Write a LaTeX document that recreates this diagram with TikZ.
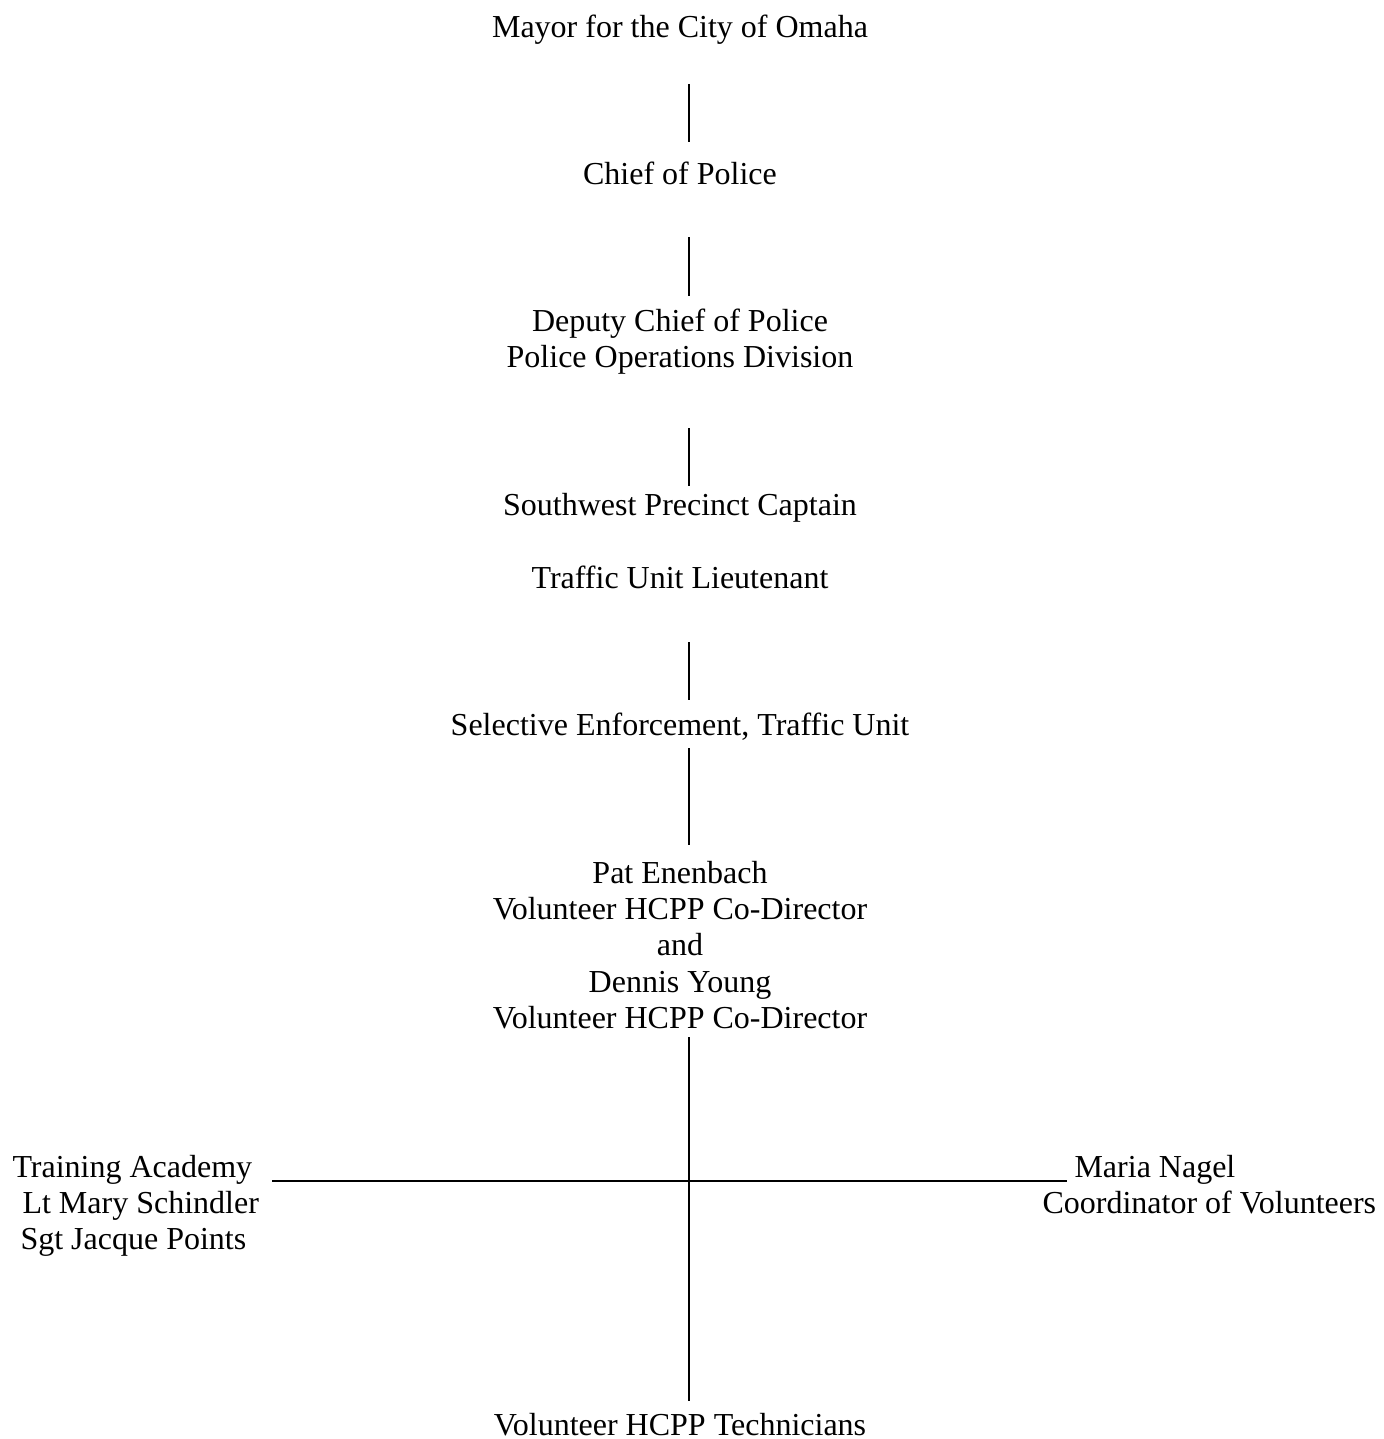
\documentclass[tikz,border=0pt]{standalone}
\usepackage{fontspec}
\setmainfont{Liberation Serif}

\tikzset{
  post/.style={inner sep=0pt, anchor=base, font=\fontsize{12}{13.65}\selectfont},
  stack/.style={post, align=flush center, text width=#1},
  link/.style={line width=0.7pt}
}

\begin{document}
\begin{tikzpicture}[x=0.375pt,y=-0.375pt]
\useasboundingbox (0,0) rectangle (1384,1439);

    \coordinate (spine) at (689,0);

    \node[post] (mayor) at (680,37) {Mayor for the City of Omaha};
    \node[post] (chief) at (680,184) {Chief of Police};
    \node[stack=150pt] (deputy) at (680,331) {Deputy Chief of Police\\Police Operations Division};
    \node[post] (captain) at (680,515) {Southwest Precinct Captain};
    \node[post] (lieut) at (680,588) {Traffic Unit Lieutenant};
    \node[post] (selective) at (680,735) {Selective Enforcement, Traffic Unit};
    \node[stack=150pt] (codir) at (680,883) {Pat Enenbach\\Volunteer HCPP Co-Director\\and\\Dennis Young\\Volunteer HCPP Co-Director};
    \node[post, align=flush left, text width=100pt, anchor=base west] (train) at (12,1177) {Training Academy\\\hspace{3.75pt}Lt Mary Schindler\\\hspace{3pt}Sgt Jacque Points};
    \node[post, align=flush left, text width=130pt, anchor=base west] (maria) at (1042,1177) {\hspace{12pt}Maria Nagel\\Coordinator of Volunteers};
    \node[post] (tech) at (680,1435) {Volunteer HCPP Technicians};

    \draw[link, shorten <=17.6pt, shorten >=15.75pt] (mayor.base -| spine) -- (chief.base -| spine);
    \draw[link, shorten <=19.9pt, shorten >=13.1pt] (chief.base -| spine) -- (deputy.base -| spine);
    \draw[link, shorten <=36.4pt, shorten >=10.9pt] (deputy.base -| spine) -- (captain.base -| spine);
    \draw[link, shorten <=20.25pt, shorten >=13.1pt] (lieut.base -| spine) -- (selective.base -| spine);
    \draw[link, shorten <=4.9pt, shorten >=14.25pt] (selective.base -| spine) -- (codir.base -| spine);
    \draw[link, shorten <=57.75pt, shorten >=12.75pt] (codir.base -| spine) -- (tech.base -| spine);
    \draw[link] ([shift={(260,4)}]train.base west) -- ([shift={(25,4)}]maria.base west);
\end{tikzpicture}
\end{document}
